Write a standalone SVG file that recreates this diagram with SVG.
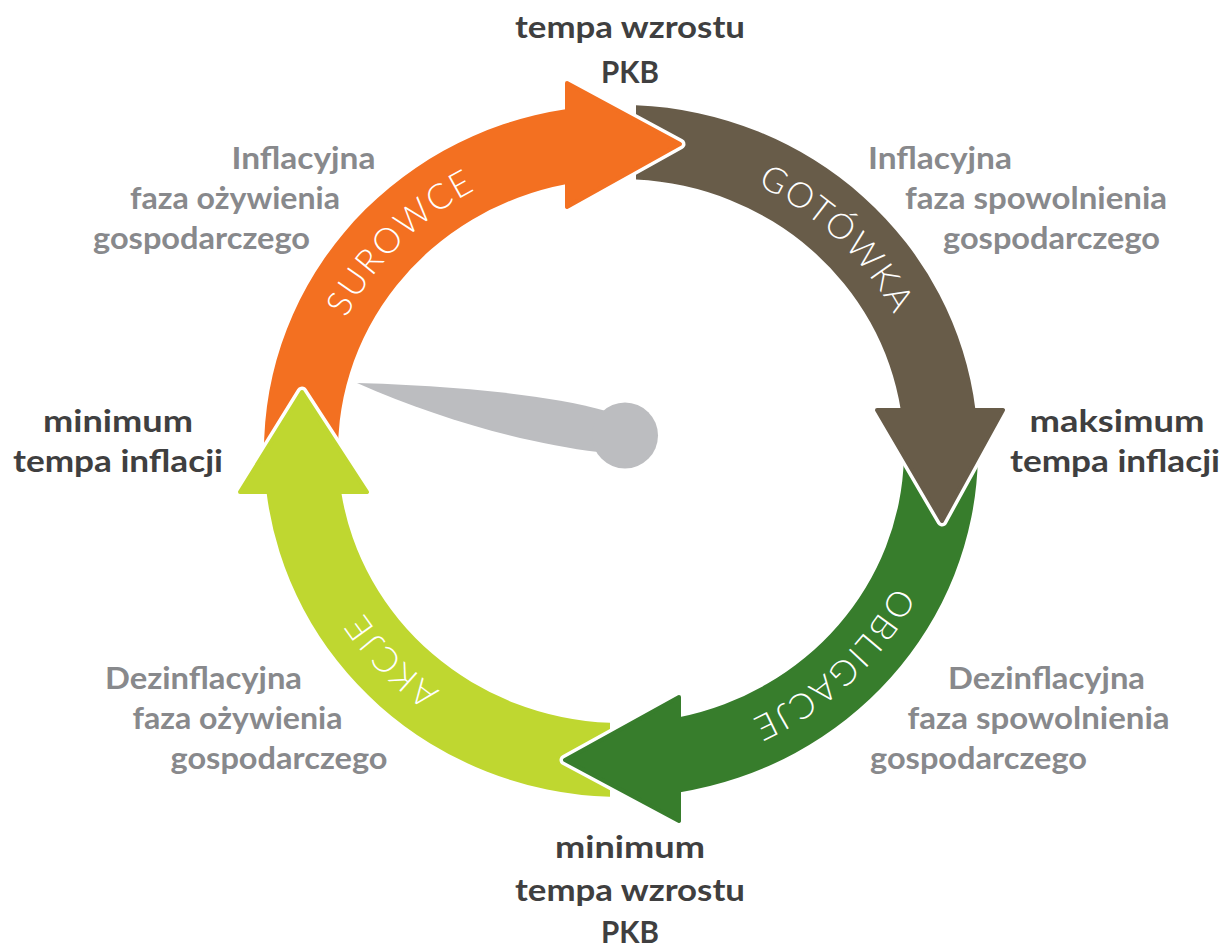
<svg xmlns="http://www.w3.org/2000/svg" width="1232" height="948" viewBox="0 0 1232 948">
<defs>
<style>
.dk{font-family:Lato,'Liberation Sans',sans-serif;font-weight:700;font-size:31px;fill:#3f3f40;text-anchor:middle}
.gr{font-family:Lato,'Liberation Sans',sans-serif;font-weight:700;font-size:31px;fill:#88898c;text-anchor:middle}
.lbl{font-family:Lato,'Open Sans',sans-serif;font-weight:300;font-size:35px;fill:#ffffff;letter-spacing:2px}
.halo{fill:none;stroke:#ffffff;stroke-width:11;stroke-linejoin:round;stroke-linecap:round}
.o{fill:#f37021;stroke:#f37021}
.b{fill:#685c49;stroke:#685c49}
.g{fill:#377d2c;stroke:#377d2c}
.l{fill:#bfd730;stroke:#bfd730}
.band{stroke:none}
.head{stroke-width:4;stroke-linejoin:round}
</style>
<path id="lp" d="M313.5,451 A307.5,296.5 0 1 1 928.5,451 A307.5,296.5 0 1 1 313.5,451" fill="none"/>
</defs>
<rect width="1232" height="948" fill="#ffffff"/>

<g id="needle" fill="#bcbdc0">
<path d="M357,383 C430,385 540,392 606,411 L598,452 C530,444 440,420 357,383 Z"/>
<circle cx="625" cy="435.5" r="33"/>
</g>

<g id="connectors">
<g id="bands">
<path id="band-surowce" class="o band" d="M264.5,470 A357,346 0 0 1 567,109 L567,184 A283,272 0 0 0 338.7,470 Z"/>
<path id="band-gotowka" class="b band" d="M636,105.3 A357,346 0 0 1 975.5,410 L900.8,410 A283,272 0 0 0 636,179.4 Z"/>
<path id="band-obligacje" class="g band" d="M977.9,458 A357,346 0 0 1 679,792.4 L679,717.2 A283,272 0 0 0 903.9,458 Z"/>
<path id="band-akcje" class="l band" d="M610,796.8 A357,346 0 0 1 266.5,492 L341.2,492 A283,272 0 0 0 610,722.8 Z"/>
</g>
<g id="heads">
<polyline class="halo" points="567,83 680,144 567,207"/>
<path class="o head" d="M567,83 L680,144 L567,207 Z"/>
<polyline class="halo" points="877,410 942,521 1003,410"/>
<path class="b head" d="M877,410 L942,521 L1003,410 Z"/>
<polyline class="halo" points="679,697 565,760 679,821"/>
<path class="g head" d="M679,697 L565,760 L679,821 Z"/>
<polyline class="halo" points="240,492 302,392 367,492"/>
<path class="l head" d="M240,492 L302,392 L367,492 Z"/>
</g>
</g>

<g id="node-surowce"><text class="lbl"><textPath href="#lp" startOffset="12.2%" text-anchor="middle">SUROWCE</textPath></text></g>
<g id="node-gotowka"><text class="lbl"><textPath href="#lp" startOffset="37.5%" text-anchor="middle">GOTÓWKA</textPath></text></g>
<g id="node-obligacje"><text class="lbl"><textPath href="#lp" startOffset="62.7%" text-anchor="middle">OBLIGACJE</textPath></text></g>
<g id="node-akcje"><text class="lbl"><textPath href="#lp" startOffset="88.1%" text-anchor="middle">AKCJE</textPath></text></g>

<g id="label-top">
<text class="dk" x="630" y="38" textLength="230" lengthAdjust="spacingAndGlyphs">tempa wzrostu</text>
<text class="dk" x="630" y="83" textLength="58" lengthAdjust="spacingAndGlyphs">PKB</text>
</g>
<g id="label-left">
<text class="dk" x="118" y="432" textLength="150" lengthAdjust="spacingAndGlyphs">minimum</text>
<text class="dk" x="118" y="472" textLength="210" lengthAdjust="spacingAndGlyphs">tempa inflacji</text>
</g>
<g id="label-right">
<text class="dk" x="1117" y="432" textLength="175" lengthAdjust="spacingAndGlyphs">maksimum</text>
<text class="dk" x="1115" y="472" textLength="210" lengthAdjust="spacingAndGlyphs">tempa inflacji</text>
</g>
<g id="label-bottom">
<text class="dk" x="630" y="858" textLength="150" lengthAdjust="spacingAndGlyphs">minimum</text>
<text class="dk" x="630" y="901" textLength="230" lengthAdjust="spacingAndGlyphs">tempa wzrostu</text>
<text class="dk" x="630" y="943" textLength="58" lengthAdjust="spacingAndGlyphs">PKB</text>
</g>

<g id="phase-top-left">
<text class="gr" x="303.5" y="169" textLength="144" lengthAdjust="spacingAndGlyphs">Inflacyjna</text>
<text class="gr" x="235" y="209" textLength="210" lengthAdjust="spacingAndGlyphs">faza ożywienia</text>
<text class="gr" x="201.5" y="249" textLength="217" lengthAdjust="spacingAndGlyphs">gospodarczego</text>
</g>
<g id="phase-top-right">
<text class="gr" x="940" y="169" textLength="144" lengthAdjust="spacingAndGlyphs">Inflacyjna</text>
<text class="gr" x="1036" y="209" textLength="262" lengthAdjust="spacingAndGlyphs">faza spowolnienia</text>
<text class="gr" x="1051.5" y="249" textLength="217" lengthAdjust="spacingAndGlyphs">gospodarczego</text>
</g>
<g id="phase-bottom-right">
<text class="gr" x="1046.5" y="689" textLength="197" lengthAdjust="spacingAndGlyphs">Dezinflacyjna</text>
<text class="gr" x="1038.5" y="729" textLength="262" lengthAdjust="spacingAndGlyphs">faza spowolnienia</text>
<text class="gr" x="978.5" y="769" textLength="217" lengthAdjust="spacingAndGlyphs">gospodarczego</text>
</g>
<g id="phase-bottom-left">
<text class="gr" x="203.5" y="689" textLength="197" lengthAdjust="spacingAndGlyphs">Dezinflacyjna</text>
<text class="gr" x="237.5" y="729" textLength="210" lengthAdjust="spacingAndGlyphs">faza ożywienia</text>
<text class="gr" x="279" y="769" textLength="217" lengthAdjust="spacingAndGlyphs">gospodarczego</text>
</g>
</svg>
